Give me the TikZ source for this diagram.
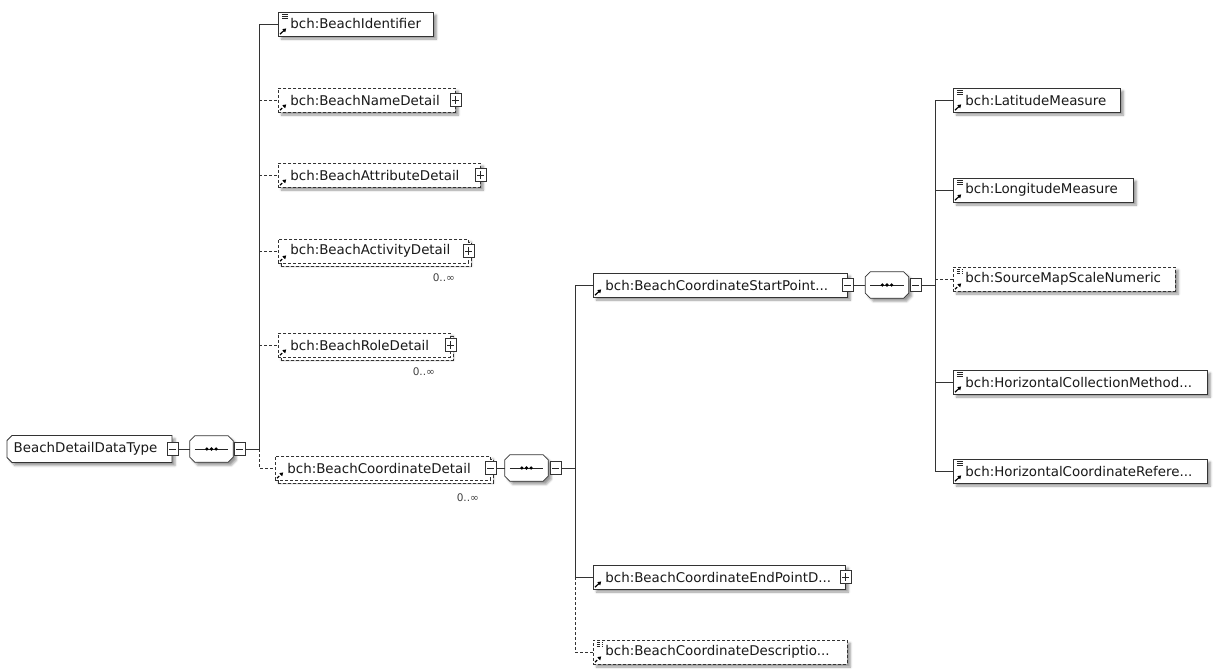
\documentclass[tikz,border=0pt]{standalone}
\usepackage{fontspec}
\newfontfamily\dejavu{DejaVu Sans}
\usetikzlibrary{calc,arrows.meta,positioning,shadows,shadows.blur}

\newcommand{\elfnt}{\dejavu\fontsize{13.4pt}{16pt}\selectfont\hyphenpenalty=10000 }
\newcommand{\refmark}{\draw[black,line width=1.2pt,-{Triangle[length=3.4pt,width=4pt]}]
  ([shift={(1.6pt,1.8pt)}]path picture bounding box.south west) -- ([shift={(7.8pt,7.6pt)}]path picture bounding box.south west);}
\newcommand{\typemark}{\foreach \dy in {2.6,4.6,6.6}{\draw[black!85,line width=0.7pt]
  ([shift={(3.4pt,-\dy pt)}]path picture bounding box.north west) -- ++(6pt,0pt);}}
% octagon of a sequence compositor, drawn over an empty node
\newcommand{\seqbody}[1]{%
  \draw[boxline,fill=white,softshadow] ([xshift=5pt]#1.north west) -- ([xshift=-5pt]#1.north east)
    -- ([yshift=-5pt]#1.north east) -- ([yshift=5pt]#1.south east) -- ([xshift=-5pt]#1.south east)
    -- ([xshift=5pt]#1.south west) -- ([yshift=5pt]#1.south west) -- ([yshift=-5pt]#1.north west) -- cycle;
  \draw[black!85,line width=0.8pt] ([xshift=5pt]#1.west) -- ([xshift=-5pt]#1.east);
  \foreach \dx in {-4.6,0,4.6} \fill[black] ([xshift=\dx pt]#1.center) circle (1.8pt);}

\tikzset{
  boxline/.style={draw=black!80,line width=0.8pt},
  softshadow/.style={blur shadow={shadow xshift=3pt,shadow yshift=-3pt,shadow blur radius=2.2pt,shadow opacity=40}},
  elem/.style={boxline,fill=white,anchor=west,minimum height=24pt,inner xsep=12pt,inner ysep=0pt,
    text width=#1,align=left,font=\elfnt,text=black!90,softshadow,path picture={\refmark}},
  simple/.style={path picture={\refmark\typemark}},
  opt/.style={dash pattern=on 3pt off 2pt},
  multi/.style={copy shadow={shadow xshift=3pt,shadow yshift=-3pt,boxline,fill=white,opt}},
  mult/.style={font=\dejavu\fontsize{10.5pt}{12pt}\selectfont,text=black!75,inner sep=0pt},
  expander/.style={boxline,fill=white,minimum width=11pt,minimum height=13pt,inner sep=0pt},
  plusbox/.style={expander,path picture={\draw[black!85,line width=0.7pt]
    ([xshift=2pt]path picture bounding box.west) -- ([xshift=-2pt]path picture bounding box.east)
    ([yshift=-2.5pt]path picture bounding box.north) -- ([yshift=2.5pt]path picture bounding box.south);}},
  minusbox/.style={expander,path picture={\draw[black!85,line width=0.7pt]
    ([xshift=2pt]path picture bounding box.west) -- ([xshift=-2pt]path picture bounding box.east);}},
  seq/.style={minimum width=43pt,minimum height=26pt,inner sep=0pt},
  root/.style={anchor=west,minimum width=165pt,minimum height=27pt,inner xsep=5pt,inner ysep=0pt,
    text width=152pt,align=left,font=\elfnt,text=black!90},
  conn/.style={draw=black!80,line width=0.8pt}
}

\begin{document}
\begin{tikzpicture}[x=1pt,y=-1pt]
  \useasboundingbox (0,0) rectangle (1214,670);

  % root type and its sequence
  \draw[boxline,fill=white,softshadow] (12,435.5) -- (172,435.5) -- (172,462.5) -- (12,462.5)
    -- (7,457.5) -- (7,440.5) -- cycle;
  \node[root] (root) at (7,449) {BeachDetailDataType};
  \node[minusbox] (rootx) at (root.east) {};
  \node[seq] (seq1) at (211.5,449) {};
  \seqbody{seq1}
  \node[minusbox] (s1x) at (239.5,449) {};
  \coordinate (t1) at (259,449);

  \node[elem=131pt,simple] (ident) at (278,24) {bch:BeachIdentifier};
  \node[elem=153pt,opt] (name) at (278,100) {bch:BeachNameDetail};
  \node[elem=178pt,opt] (attr) at (278,175) {bch:BeachAttributeDetail};
  \node[elem=166pt,opt,multi] (act) at (278,251) {bch:BeachActivityDetail};
  \node[elem=148pt,opt,multi] (role) at (278,345) {bch:BeachRoleDetail};
  \node[elem=191pt,opt,multi] (coord) at (275,468) {bch:BeachCoordinateDetail};
  \node[plusbox] (namex) at (name.east) {};
  \node[plusbox] (attrx) at (attr.east) {};
  \node[plusbox] (actx) at (act.east) {};
  \node[plusbox] (rolex) at (role.east) {};
  \node[minusbox] (coordx) at (coord.east) {};
  \node[mult] (actm) at ([shift={(-25pt,-27pt)}]act.east) {0..∞};
  \node[mult] (rolem) at ([shift={(-27pt,-27pt)}]role.east) {0..∞};
  \node[mult] (coordm) at ([shift={(-23pt,-30pt)}]coord.east) {0..∞};

  \draw[conn] (rootx) -- (seq1);
  \draw[conn] (s1x) -- (t1);
  \draw[conn] (t1) |- (ident.west);
  \draw[conn,opt] (t1 |- name.west) -- (name.west);
  \draw[conn,opt] (t1 |- attr.west) -- (attr.west);
  \draw[conn,opt] (t1 |- act.west) -- (act.west);
  \draw[conn,opt] (t1 |- role.west) -- (role.west);
  \draw[conn,opt] (t1) |- (coord.west);

  % coordinate detail
  \node[seq] (seq2) at (526.5,468) {};
  \seqbody{seq2}
  \node[minusbox] (s2x) at (555.5,468) {};
  \coordinate (t2) at (575,468);
  \node[elem=230pt] (start) at (593,285) {bch:BeachCoordinateStartPoint...};
  \node[elem=228pt] (endpt) at (593,577) {bch:BeachCoordinateEndPointD...};
  \node[elem=230pt,opt,simple] (desc) at (593,652) {bch:BeachCoordinateDescriptio...};
  \node[minusbox] (startx) at (start.east) {};
  \node[plusbox] (endptx) at (endpt.east) {};

  \draw[conn] (coordx) -- (seq2);
  \draw[conn] (s2x) -- (t2);
  \draw[conn] (t2) |- (start.west);
  \draw[conn] (t2) |- (endpt.west);
  \draw[conn,opt] (t2 |- endpt.west) |- (desc.west);

  % start point
  \node[seq] (seq3) at (887,285) {};
  \seqbody{seq3}
  \node[minusbox] (s3x) at (915.5,285) {};
  \coordinate (t3) at (935,285);
  \node[elem=143pt,simple] (lat) at (953,100) {bch:LatitudeMeasure};
  \node[elem=156pt,simple] (lon) at (953,190) {bch:LongitudeMeasure};
  \node[elem=198pt,opt,simple] (src) at (953,279) {bch:SourceMapScaleNumeric};
  \node[elem=230pt,simple] (hcoll) at (953,382) {bch:HorizontalCollectionMethod...};
  \node[elem=230pt,simple] (href) at (953,471) {bch:HorizontalCoordinateRefere...};

  \draw[conn] (startx) -- (seq3);
  \draw[conn] (s3x) -- (t3);
  \draw[conn] (t3) |- (lat.west);
  \draw[conn] (t3) |- (href.west);
  \draw[conn] (t3 |- lon.west) -- (lon.west);
  \draw[conn,opt] (t3 |- src.west) -- (src.west);
  \draw[conn] (t3 |- hcoll.west) -- (hcoll.west);
\end{tikzpicture}
\end{document}
